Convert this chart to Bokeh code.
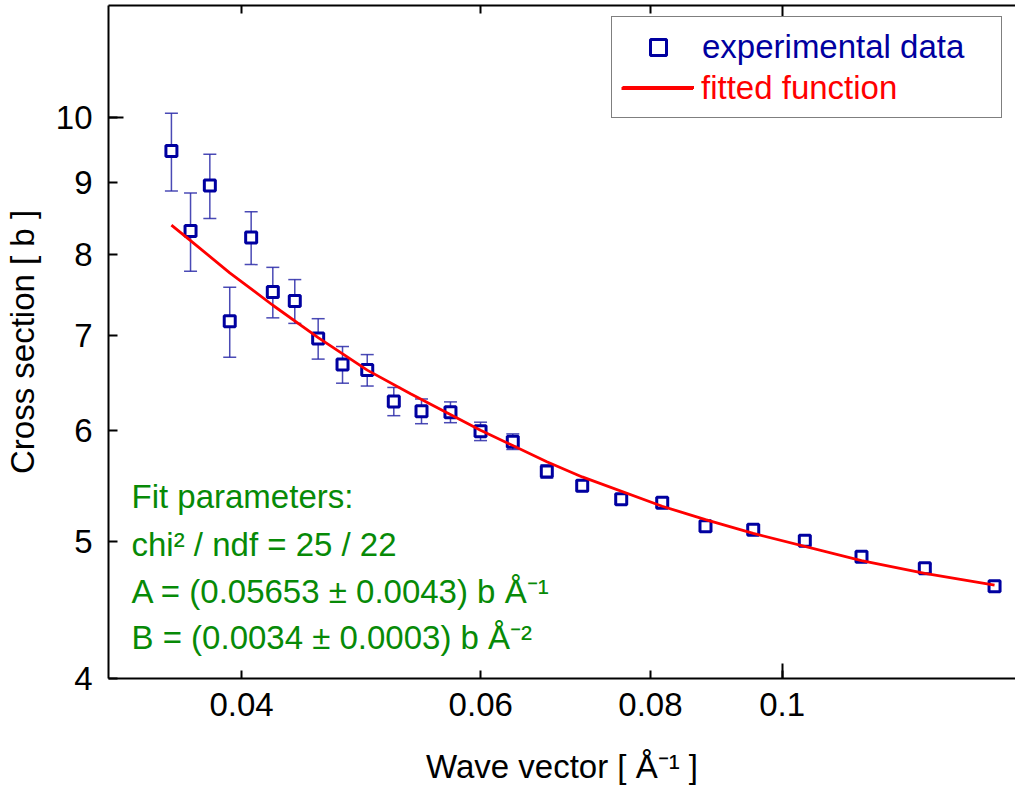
from bokeh.plotting import figure
from bokeh.models import (ColumnDataSource, Whisker, TeeHead, Legend, LegendItem,
                          LogAxis, FixedTicker, NumeralTickFormatter, Label, Range1d)
from bokeh.embed import file_html
from bokeh.resources import INLINE

# ---- data ----
wave_vector = [0.03552, 0.03669, 0.03791, 0.03921, 0.04066, 0.04218, 0.04378, 0.04555,
               0.04747, 0.04950, 0.05178, 0.05427, 0.05700, 0.05998, 0.06335, 0.06711,
               0.07126, 0.07613, 0.08161, 0.08782, 0.09522, 0.10392, 0.11440, 0.12736,
               0.14334]
cross_section = [9.47, 8.31, 8.95, 7.17, 8.22, 7.52, 7.41, 6.97, 6.68, 6.62, 6.29, 6.19,
                 6.18, 5.99, 5.89, 5.61, 5.48, 5.36, 5.33, 5.13, 5.10, 5.01, 4.88, 4.79,
                 4.65]
cross_error = [0.60, 0.53, 0.47, 0.41, 0.355, 0.31, 0.265, 0.23, 0.20, 0.17, 0.145, 0.125,
               0.105, 0.09, 0.075, 0.06, 0.05, 0.045, 0.04, 0.035, 0.03, 0.03, 0.03, 0.03,
               0.03]

fit_wave_vector = [0.03552, 0.03669, 0.03921, 0.04218, 0.04555, 0.0495, 0.05327, 0.05998,
                   0.06711, 0.07126, 0.08161, 0.08782, 0.09522, 0.1144, 0.12736, 0.14334]
fit_cross_section = [8.39, 8.18, 7.76, 7.36, 6.98, 6.62, 6.37, 6.00, 5.70, 5.56, 5.30,
                     5.185, 5.07, 4.85, 4.75, 4.66]

x_ticks = [0.04, 0.06, 0.08, 0.1]
y_ticks = [4, 5, 6, 7, 8, 9, 10]

fit_text = ["Fit parameters:",
            "chi\u00b2 / ndf = 25 / 22",
            "A = (0.05653 \u00b1 0.0043) b \u00c5\u207b\u00b9",
            "B = (0.0034 \u00b1 0.0003) b \u00c5\u207b\u00b2"]

FONT = "Liberation Sans"
FS = "33px"
BLUE = "#0000A0"
ERR_BLUE = "#2a2aa8"
RED = "#FF0000"
GREEN = "#078a07"

src = ColumnDataSource(dict(
    k=wave_vector,
    s=cross_section,
    upper=[v + e for v, e in zip(cross_section, cross_error)],
    lower=[v - e for v, e in zip(cross_section, cross_error)],
))
fit_src = ColumnDataSource(dict(k=fit_wave_vector, s=fit_cross_section))

p = figure(width=1015, height=788, x_axis_type="log", y_axis_type="log",
           x_range=Range1d(0.031927, 0.14852), y_range=Range1d(4, 12.01),
           output_backend="svg", toolbar_location=None,
           min_border_left=108, min_border_right=0, min_border_top=5,
           min_border_bottom=110)
p.grid.visible = False
p.outline_line_color = None
p.background_fill_color = "white"
p.border_fill_color = "white"

# bottom axis
xa = p.xaxis[0]
xa.ticker = FixedTicker(ticks=x_ticks, minor_ticks=[0.1])
xa.formatter = NumeralTickFormatter(format="0.[00]")
xa.major_tick_in = 8
xa.major_tick_out = 0
xa.minor_tick_in = 15
xa.minor_tick_out = 0
xa.axis_line_width = 2
xa.axis_line_color = "black"
xa.major_tick_line_width = 2
xa.minor_tick_line_width = 2
xa.major_label_text_font = FONT
xa.major_label_text_font_size = FS
xa.major_label_text_color = "black"
xa.major_label_standoff = 14
xa.axis_label = "Wave vector [ \u00c5\u207b\u00b9 ]"
xa.axis_label_text_font = FONT
xa.axis_label_text_font_size = FS
xa.axis_label_text_color = "black"
xa.axis_label_text_font_style = "normal"
xa.axis_label_standoff = 29

# left axis
ya = p.yaxis[0]
ya.ticker = FixedTicker(ticks=y_ticks, minor_ticks=[10])
ya.formatter = NumeralTickFormatter(format="0")
ya.major_tick_in = 9
ya.major_tick_out = 0
ya.minor_tick_in = 15
ya.minor_tick_out = 0
ya.axis_line_width = 2
ya.axis_line_color = "black"
ya.major_tick_line_width = 2
ya.minor_tick_line_width = 2
ya.major_label_text_font = FONT
ya.major_label_text_font_size = FS
ya.major_label_text_color = "black"
ya.major_label_standoff = 16
ya.axis_label = "Cross section [ b ]"
ya.axis_label_text_font = FONT
ya.axis_label_text_font_size = FS
ya.axis_label_text_color = "black"
ya.axis_label_text_font_style = "normal"
ya.axis_label_standoff = 12

# top axis (frame line with ticks only)
top = LogAxis(ticker=FixedTicker(ticks=[0.1], minor_ticks=[0.04, 0.06, 0.08]))
top.major_tick_in = 12
top.major_tick_out = 0
top.minor_tick_in = 8
top.minor_tick_out = 0
top.axis_line_width = 2
top.axis_line_color = "black"
top.major_tick_line_width = 2
top.minor_tick_line_width = 2
top.major_label_text_font_size = "1px"
top.major_label_text_alpha = 0
top.major_label_standoff = 0
top.axis_label_standoff = 0
p.add_layout(top, "above")

# error bars
wh = Whisker(base="k", upper="upper", lower="lower", source=src, dimension="height",
             line_color=ERR_BLUE, line_width=1.5, line_alpha=0.85, level="underlay",
             upper_head=TeeHead(size=13, line_color=ERR_BLUE, line_width=1.5, line_alpha=0.85),
             lower_head=TeeHead(size=13, line_color=ERR_BLUE, line_width=1.5, line_alpha=0.85))
p.add_layout(wh)

r_sc = p.scatter("k", "s", source=src, marker="square", size=11, line_width=3,
                 line_color=BLUE, fill_color="white")
r_fit = p.line("k", "s", source=fit_src, line_color=RED, line_width=2.8)

# legend: box with blue label, plus a second (transparent) legend for the red label
common = dict(location=(503, 560), padding=10, spacing=0, margin=0, glyph_width=72,
              glyph_height=40, label_height=40, label_standoff=8,
              label_text_font=FONT, label_text_font_size=FS)
leg_a = Legend(items=[LegendItem(label="experimental data", renderers=[r_sc]),
                      LegendItem(label=" ", renderers=[r_fit])],
               label_width=289, label_text_color=BLUE,
               border_line_color="black", border_line_width=1.5,
               background_fill_color="white", background_fill_alpha=1.0, **common)
leg_b = Legend(items=[LegendItem(label="fitted function", renderers=[r_fit])],
               label_text_color=RED, border_line_alpha=0, background_fill_alpha=0,
               **common)
p.add_layout(leg_a)
p.add_layout(leg_b)

# fit parameter text
baselines = [182.3, 134.0, 87.3, 40.7]
for txt, yb in zip(fit_text, baselines):
    p.add_layout(Label(x=23, y=yb, x_units="screen", y_units="screen", text=txt,
                       text_color=GREEN, text_font=FONT, text_font_size=FS,
                       text_baseline="alphabetic", text_align="left"))

open("out.html", "w").write(file_html(p, INLINE))
